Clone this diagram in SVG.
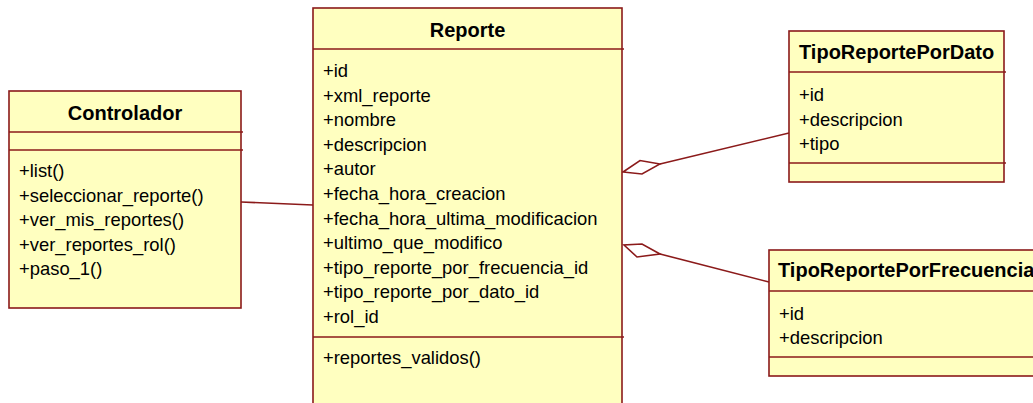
<svg xmlns="http://www.w3.org/2000/svg" width="1033" height="403" viewBox="0 0 1033 403">
  <style>
    .box { fill: #ffffc0; stroke: #8b1a1a; stroke-width: 1.6; }
    .sep { stroke: #8b1a1a; stroke-width: 1.6; fill: none; }
    .title { font-family: "Liberation Sans", Arial, sans-serif; font-size: 20px; font-weight: bold; fill: #000; }
    .member { font-family: "Liberation Sans", Arial, sans-serif; font-size: 18.4px; fill: #000; }
    .conn { stroke: #8b1a1a; stroke-width: 1.6; fill: none; }
    .diamond { stroke: #8b1a1a; stroke-width: 1.6; fill: #ffffff; stroke-linejoin: miter; }
  </style>
  <rect width="1033" height="403" fill="#ffffff"/>

  <!-- associations -->
  <g id="connectors">
    <line class="conn" x1="241" y1="202" x2="313" y2="205"/>
    <line class="conn" x1="789" y1="133" x2="660" y2="164"/>
    <polygon class="diamond" points="660,164 640,160.5 623,172 642,174"/>
    <line class="conn" x1="769" y1="282" x2="660" y2="254"/>
    <polygon class="diamond" points="660,254 642,244 624,245 637,257"/>
  </g>

  <g id="controlador">
    <rect class="box" x="9" y="91" width="232" height="217"/>
    <line class="sep" x1="9" y1="132" x2="243" y2="132"/>
    <line class="sep" x1="9" y1="150" x2="243" y2="150"/>
    <text class="title" x="125" y="120" text-anchor="middle">Controlador</text>
    <text class="member" x="19" y="177">+list()</text>
    <text class="member" x="19" y="201.5">+seleccionar_reporte()</text>
    <text class="member" x="19" y="226">+ver_mis_reportes()</text>
    <text class="member" x="19" y="250.5">+ver_reportes_rol()</text>
    <text class="member" x="19" y="275">+paso_1()</text>
  </g>

  <g id="reporte">
    <rect class="box" x="313" y="8" width="309" height="420"/>
    <line class="sep" x1="313" y1="49" x2="624" y2="49"/>
    <line class="sep" x1="313" y1="337" x2="624" y2="337"/>
    <text class="title" x="467.5" y="37" text-anchor="middle">Reporte</text>
    <text class="member" x="323" y="77">+id</text>
    <text class="member" x="323" y="101.6">+xml_reporte</text>
    <text class="member" x="323" y="126.2">+nombre</text>
    <text class="member" x="323" y="150.8">+descripcion</text>
    <text class="member" x="323" y="175.4">+autor</text>
    <text class="member" x="323" y="200">+fecha_hora_creacion</text>
    <text class="member" x="323" y="224.6">+fecha_hora_ultima_modificacion</text>
    <text class="member" x="323" y="249.2">+ultimo_que_modifico</text>
    <text class="member" x="323" y="273.8">+tipo_reporte_por_frecuencia_id</text>
    <text class="member" x="323" y="298.4">+tipo_reporte_por_dato_id</text>
    <text class="member" x="323" y="323">+rol_id</text>
    <text class="member" x="323" y="364">+reportes_validos()</text>
  </g>

  <g id="tipo-reporte-por-dato">
    <rect class="box" x="789" y="31" width="215" height="151"/>
    <line class="sep" x1="789" y1="72" x2="1006" y2="72"/>
    <line class="sep" x1="789" y1="163" x2="1006" y2="163"/>
    <text class="title" x="799" y="59">TipoReportePorDato</text>
    <text class="member" x="799" y="101">+id</text>
    <text class="member" x="799" y="125.5">+descripcion</text>
    <text class="member" x="799" y="150">+tipo</text>
  </g>

  <g id="tipo-reporte-por-frecuencia">
    <rect class="box" x="769" y="250" width="290" height="126"/>
    <line class="sep" x1="769" y1="291" x2="1059" y2="291"/>
    <line class="sep" x1="769" y1="357" x2="1059" y2="357"/>
    <text class="title" x="778" y="277">TipoReportePorFrecuencia</text>
    <text class="member" x="779" y="320">+id</text>
    <text class="member" x="779" y="343.5">+descripcion</text>
  </g>
</svg>
